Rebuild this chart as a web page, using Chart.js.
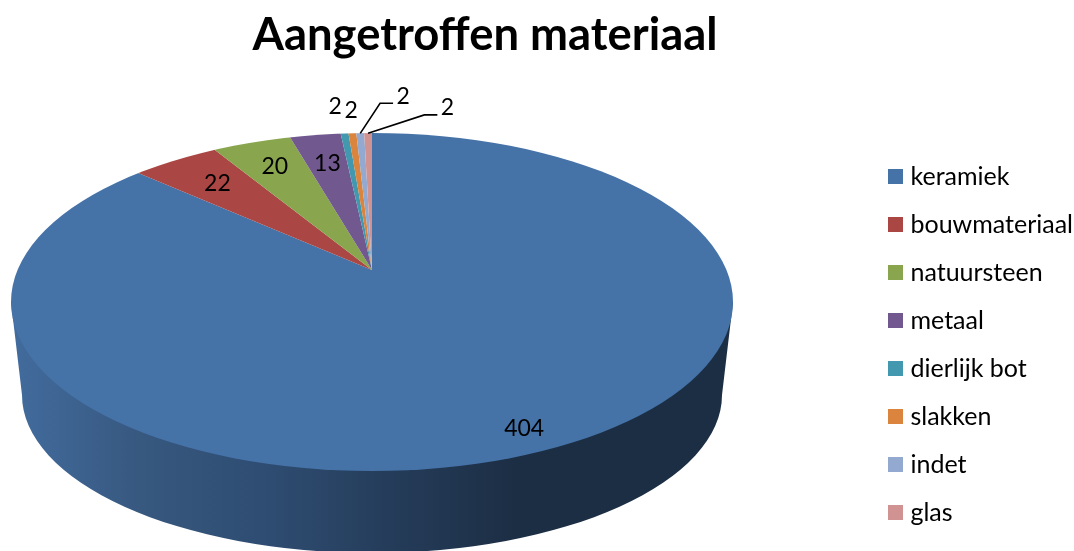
<!DOCTYPE html>
<html>
<head>
<meta charset="utf-8">
<style>
  html, body { margin: 0; background: #fff; }
  #wrap { width: 1074px; height: 551px; }
</style>
<script src="https://cdn.jsdelivr.net/npm/chart.js@4/dist/chart.umd.min.js"></script>
</head>
<body>
<div id="wrap"><canvas id="pie"></canvas></div>
<script>
const categories = ['keramiek', 'bouwmateriaal', 'natuursteen', 'metaal', 'dierlijk bot', 'slakken', 'indet', 'glas'];
const counts = [404, 22, 20, 13, 2, 2, 2, 2];
const colors = ['#4572a7', '#aa4643', '#89a54e', '#71588f', '#4198af', '#db843d', '#93a9cf', '#d19392'];

// where each value label sits: distance from the tip along the slice, plus a sideways nudge
const labelRadius = [370, 240, 240, 230, 350, 341, 370, 345];
const labelNudge = [0, 0, 0, 0, -4, 2, 46, 80];
const hasLeader = [false, false, false, false, false, false, true, true];

// the 3D look: top ellipse, lower rim, and the tip of the pie (off centre because of perspective)
const tip = { x: 372, y: 270, squash: 0.47 };
const top3d = { x: 372, y: 302, rx: 361, ry: 169 };
const low3d = { x: 372, y: 395, rx: 350, ry: 158 };

function legendSwatch(color) {
    const c = document.createElement('canvas');
    c.width = 15;
    c.height = 15;
    const g = c.getContext('2d');
    g.fillStyle = color;
    g.fillRect(0, 0, 15, 15);
    return c;
}

const pie3d = {
    id: 'pie3d',
    beforeDatasetsDraw(chart) {
        const ctx = chart.ctx;
        const arc = chart.getDatasetMeta(0).data[0];

        // side wall
        const wall = ctx.createLinearGradient(top3d.x - top3d.rx, 0, top3d.x + top3d.rx, 0);
        wall.addColorStop(0, '#426c9e');
        wall.addColorStop(0.18, '#37587f');
        wall.addColorStop(0.36, '#2e4c71');
        wall.addColorStop(0.54, '#243b58');
        wall.addColorStop(0.7, '#1c2e44');
        wall.addColorStop(1, '#1c2e44');
        ctx.save();
        ctx.fillStyle = wall;
        ctx.beginPath();
        ctx.moveTo(top3d.x - top3d.rx, top3d.y);
        ctx.lineTo(low3d.x - low3d.rx, low3d.y);
        ctx.ellipse(low3d.x, low3d.y, low3d.rx, low3d.ry, 0, Math.PI, 0, true);
        ctx.lineTo(top3d.x + top3d.rx, top3d.y);
        ctx.closePath();
        ctx.fill();
        ctx.restore();

        // slices are cut to the top ellipse, the arc itself is much bigger than it
        ctx.save();
        ctx.beginPath();
        ctx.ellipse(top3d.x, top3d.y, top3d.rx, top3d.ry, 0, 0, Math.PI * 2);
        ctx.clip();
        ctx.translate(tip.x, tip.y);
        ctx.scale(1, tip.squash);
        ctx.translate(-arc.x, -arc.y);
    },
    afterDatasetsDraw(chart) {
        const ctx = chart.ctx;
        ctx.restore();

        ctx.save();
        ctx.font = '23px Lato';
        ctx.fillStyle = '#000';
        ctx.strokeStyle = '#000';
        ctx.lineWidth = 1.6;
        ctx.textAlign = 'center';
        ctx.textBaseline = 'middle';
        chart.getDatasetMeta(0).data.forEach((arc, i) => {
            const mid = (arc.startAngle + arc.endAngle) / 2;
            const lx = tip.x + Math.cos(mid) * labelRadius[i] + labelNudge[i];
            const ly = tip.y + Math.sin(mid) * labelRadius[i] * tip.squash;
            ctx.fillText(String(counts[i]), lx, ly);
            if (hasLeader[i]) {
                ctx.beginPath();
                ctx.moveTo(lx - 10, ly + 7);
                ctx.lineTo(lx - 23, ly + 7);
                ctx.lineTo(tip.x + Math.cos(mid) * 291, tip.y + Math.sin(mid) * 291 * tip.squash);
                ctx.stroke();
            }
        });
        ctx.restore();
    }
};

new Chart(document.getElementById('pie'), {
    type: 'pie',
    data: {
        labels: categories,
        datasets: [{
            data: counts,
            backgroundColor: colors,
            borderWidth: 0,
            radius: 700,
            clip: false
        }]
    },
    plugins: [pie3d],
    options: {
        responsive: true,
        maintainAspectRatio: false,
        animation: false,
        layout: { padding: { left: 99, right: -9, bottom: 3 } },
        plugins: {
            title: {
                display: true,
                text: 'Aangetroffen materiaal',
                fullSize: false,
                color: '#000',
                font: { family: 'Lato', size: 45.4, weight: 'bold' },
                padding: { top: 8, bottom: 8 }
            },
            tooltip: { enabled: false },
            legend: {
                position: 'right',
                align: 'end',
                labels: {
                    usePointStyle: true,
                    pointStyleWidth: 4,
                    boxHeight: 15,
                    padding: 23,
                    color: '#000',
                    font: { family: 'Lato', size: 25 },
                    generateLabels: () => categories.map((name, i) => ({
                        text: name,
                        index: i,
                        fillStyle: colors[i],
                        strokeStyle: colors[i],
                        lineWidth: 0,
                        pointStyle: legendSwatch(colors[i])
                    }))
                }
            }
        }
    }
});
</script>
</body>
</html>
